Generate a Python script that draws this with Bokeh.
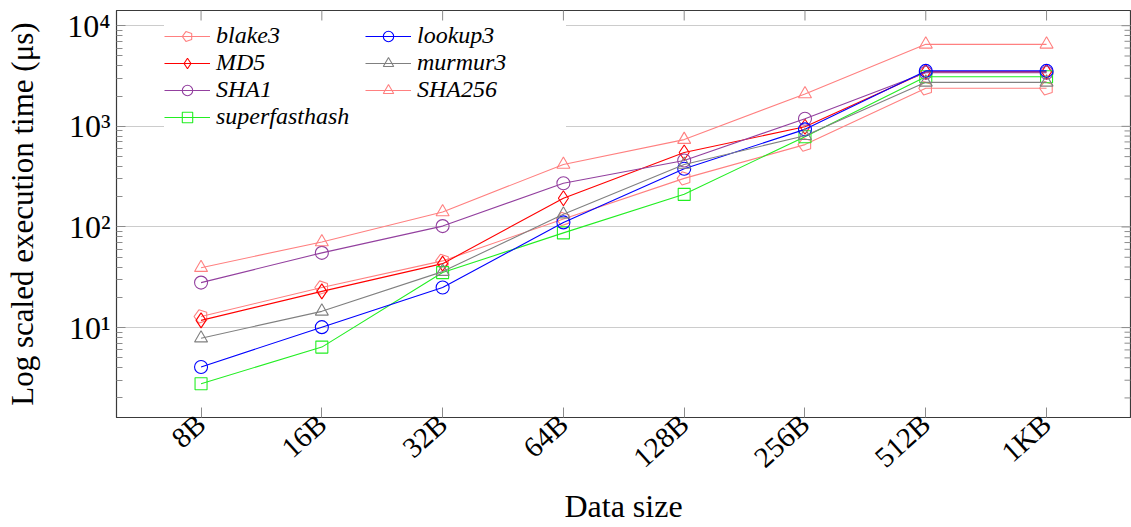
import math

from bokeh.plotting import figure
from bokeh.models import FixedTicker, Legend, LegendItem, Range1d
from bokeh.embed import file_html
from bokeh.resources import INLINE

# Data sizes (x categories)
sizes = ["8B", "16B", "32B", "64B", "128B", "256B", "512B", "1KB"]

# Execution time in microseconds for each hash function
blake3 = [12.9, 25.0, 46.0, 120.0, 304.0, 658.0, 2388.0, 2388.0]
md5 = [11.8, 22.9, 43.2, 193.0, 549.0, 991.0, 3475.0, 3475.0]
sha1 = [28.0, 55.3, 102.0, 272.0, 458.0, 1189.0, 3405.0, 3405.0]
superfasthash = [2.77, 6.4, 35.2, 87.3, 211.0, 789.0, 3106.0, 3106.0]
lookup3 = [4.06, 10.1, 25.0, 111.0, 379.0, 933.0, 3556.0, 3556.0]
murmur3 = [7.85, 14.5, 36.0, 134.0, 418.0, 807.0, 2735.0, 2735.0]
sha256 = [39.4, 71.0, 141.0, 418.0, 738.0, 2099.0, 6530.0, 6530.0]

# Decade ticks and their labels
y_major = [10, 100, 1000, 10000]
y_labels = ["10\u00b9", "10\u00b2", "10\u00b3", "10\u2074"]

SERIF = "Liberation Serif"
TICK_GRAY = "#8c8c8c"
FRAME = "#3a3a3a"

X0, X1 = -0.70, 7.695
Y0, Y1 = 1.278, 14160

x = list(range(len(sizes)))
y_minor = [m * 10 ** k for k in range(0, 5) for m in range(2, 10)]

p = figure(width=1131, height=527, y_axis_type="log",
           x_range=Range1d(X0, X1), y_range=Range1d(Y0, Y1),
           output_backend="svg", toolbar_location=None,
           min_border_left=116, min_border_right=1,
           min_border_top=10, min_border_bottom=107)

p.outline_line_color = FRAME
p.outline_line_width = 1.2
p.background_fill_color = "white"
p.border_fill_color = "white"

# --- axes -----------------------------------------------------------------
xt = FixedTicker(ticks=x, minor_ticks=[])
yt = FixedTicker(ticks=y_major, minor_ticks=y_minor)

xa = p.xaxis[0]
xa.ticker = xt
xa.major_label_overrides = {i: s for i, s in zip(x, sizes)}
xa.major_label_orientation = math.radians(42)
xa.major_label_text_font = SERIF
xa.major_label_text_font_size = "29px"
xa.major_label_text_color = "black"
xa.major_label_standoff = 2
xa.major_tick_in = 10
xa.major_tick_out = 0
xa.minor_tick_line_color = None
xa.major_tick_line_color = TICK_GRAY
xa.axis_line_color = FRAME
xa.axis_label = "Data size"
xa.axis_label_text_font = SERIF
xa.axis_label_text_font_style = "normal"
xa.axis_label_text_font_size = "32px"
xa.axis_label_text_color = "black"
xa.axis_label_standoff = 0

ya = p.yaxis[0]
ya.ticker = yt
ya.major_label_overrides = {v: s for v, s in zip(y_major, y_labels)}
ya.major_label_text_font = SERIF
ya.major_label_text_font_size = "32px"
ya.major_label_text_color = "black"
ya.major_label_standoff = 6
ya.major_tick_in = 9
ya.major_tick_out = 0
ya.minor_tick_in = 6
ya.minor_tick_out = 0
ya.major_tick_line_color = TICK_GRAY
ya.minor_tick_line_color = TICK_GRAY
ya.axis_line_color = FRAME
ya.axis_label = "Log scaled execution time (\u03bcs)"
ya.axis_label_text_font = SERIF
ya.axis_label_text_font_style = "normal"
ya.axis_label_text_font_size = "31px"
ya.axis_label_text_color = "black"
ya.axis_label_standoff = 24

p.xgrid.grid_line_color = None
p.ygrid.grid_line_color = "#cccccc"
p.ygrid.grid_line_width = 1.2

# Inward ticks on the top and right edges of the frame (half of each dash
# is clipped away by the frame)
p.scatter(x, [Y1] * len(x), marker="dash", angle=math.pi / 2, size=20,
          line_color=TICK_GRAY, line_width=1)
p.scatter([X1] * len(y_major), y_major, marker="dash", size=18,
          line_color=TICK_GRAY, line_width=1)
p.scatter([X1] * len(y_minor), y_minor, marker="dash", size=12,
          line_color=TICK_GRAY, line_width=1)

# --- series ---------------------------------------------------------------
series = [
    ("blake3", blake3, "#ff8080", "pentagon"),
    ("MD5", md5, "#ff0000", "diamond"),
    ("SHA1", sha1, "#93409f", "circle"),
    ("superfasthash", superfasthash, "#22ee22", "square"),
    ("lookup3", lookup3, "#0000ff", "circle"),
    ("murmur3", murmur3, "#808080", "triangle"),
    ("SHA256", sha256, "#ff8080", "triangle"),
]

items = []
for name, vals, color, marker in series:
    ln = p.line(x, vals, line_color=color, line_width=1.1)
    if marker == "pentagon":
        mk = p.ngon(x, vals, radius=7, radius_units="screen", n=5,
                    angle=math.pi / 2, fill_color=None,
                    line_color=color, line_width=1.1)
    else:
        size = {"circle": 13, "diamond": 15, "square": 12, "triangle": 13}[marker]
        mk = p.scatter(x, vals, marker=marker, size=size, fill_color=None,
                       line_color=color, line_width=1.1)
    items.append(LegendItem(label=name, renderers=[ln, mk]))

legend = Legend(items=items, nrows=4, location=(48, 287),
                label_text_font=SERIF, label_text_font_style="italic",
                label_text_font_size="24px", label_text_color="black",
                glyph_width=46, glyph_height=26, label_height=26,
                label_width=149, label_standoff=6, spacing=0, padding=8,
                border_line_color=None, background_fill_color="white",
                background_fill_alpha=1.0)
p.add_layout(legend)

open("out.html", "w").write(file_html(p, INLINE))
